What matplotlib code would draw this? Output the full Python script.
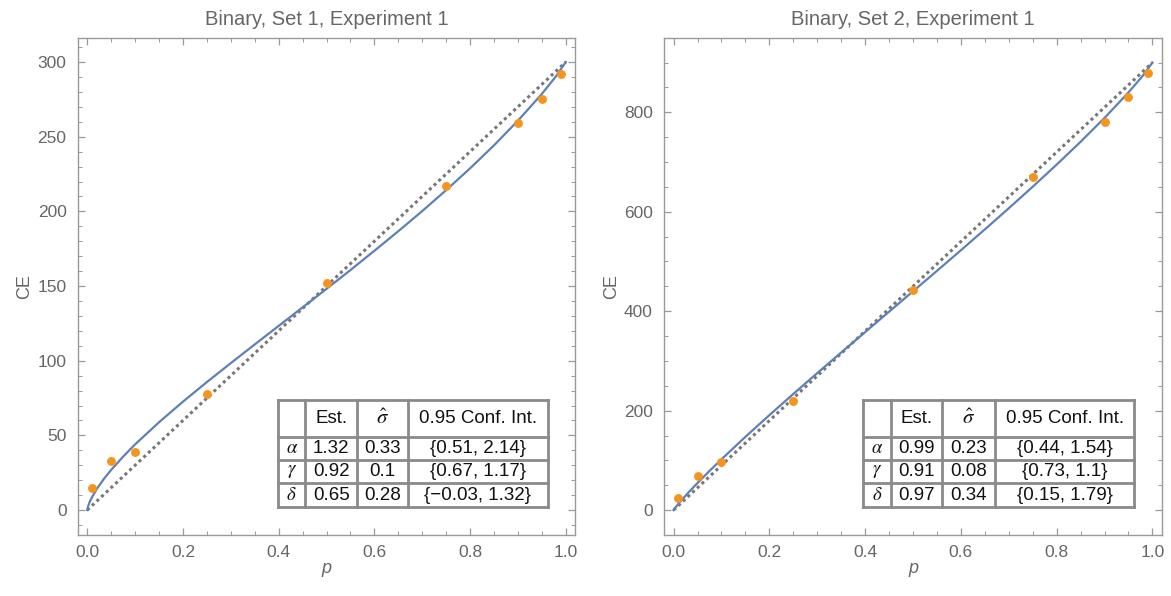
import matplotlib
matplotlib.use("Agg")
import matplotlib.pyplot as plt
from matplotlib.ticker import MultipleLocator
from matplotlib.lines import Line2D

# observed certainty equivalents
p_obs = [0.01, 0.05, 0.1, 0.25, 0.5, 0.75, 0.9, 0.95, 0.99]
ce_set1 = [15, 33, 39, 78, 152, 217, 259, 275, 292]
ce_set2 = [25, 68, 97, 220, 442, 670, 780, 830, 880]

# fitted curves
p_fit = [0, 0.002, 0.005, 0.01, 0.02, 0.035, 0.05, 0.075, 0.1, 0.15, 0.2, 0.25,
         0.3, 0.35, 0.4, 0.45, 0.5, 0.55, 0.6, 0.65, 0.7, 0.75, 0.8, 0.85,
         0.9, 0.95, 0.98, 1.0]
fit_set1 = [0.0, 2.8, 5.4, 8.7, 14.2, 21.0, 26.9, 35.8, 44.0, 58.8, 72.6, 85.7,
            98.4, 110.9, 123.3, 135.7, 148.1, 160.7, 173.6, 186.7, 200.2, 214.2,
            228.8, 244.2, 260.7, 278.6, 290.6, 300.0]
fit_set2 = [0.0, 2.9, 6.7, 12.6, 23.7, 39.5, 54.6, 78.8, 102.2, 147.4, 191.0, 233.6,
            275.5, 316.9, 358.0, 399.0, 440.0, 481.1, 522.6, 564.5, 607.0, 650.4,
            694.8, 740.7, 788.7, 840.0, 873.6, 900.0]
stake1, stake2 = 300, 900

# parameter tables
col_labels = ["", "Est.", r"$\hat{\sigma}$", "0.95 Conf. Int."]
params = [r"$\alpha$", r"$\gamma$", r"$\delta$"]
est1 = ["1.32", "0.92", "0.65"]
sd1 = ["0.33", "0.1", "0.28"]
ci1 = ["{0.51, 2.14}", "{0.67, 1.17}", "{\u22120.03, 1.32}"]
est2 = ["0.99", "0.91", "0.97"]
sd2 = ["0.23", "0.08", "0.34"]
ci2 = ["{0.44, 1.54}", "{0.73, 1.1}", "{0.15, 1.79}"]

plt.rcParams["font.family"] = ["Liberation Sans", "DejaVu Sans"]
W, H = 1171, 596
fig = plt.figure(figsize=(W / 100, H / 100), dpi=100)

txt_gray = "#666666"
frame_gray = "#999999"


def draw_table(xs, ys, rows):
    kw = dict(transform=fig.transFigure, color="#8a8a8a", lw=2.0,
              solid_capstyle="projecting")
    for x in xs:
        fig.add_artist(Line2D([x / W, x / W], [1 - ys[0] / H, 1 - ys[-1] / H], **kw))
    for y in ys:
        fig.add_artist(Line2D([xs[0] / W, xs[-1] / W], [1 - y / H, 1 - y / H], **kw))
    for r, row in enumerate(rows):
        for c, s in enumerate(row):
            cx = (xs[c] + xs[c + 1]) / 2
            cy = (ys[r] + ys[r + 1]) / 2
            size = 15 if "sigma" in s else 13.5
            fig.text(cx / W, 1 - cy / H, s, ha="center", va="center",
                     fontsize=size, color="#111111", math_fontfamily="stix")


def panel(rect, fit, obs, stake, ylim, major, minor, title, xs, table_rows):
    ax = fig.add_axes(rect)
    ax.plot([0, 1], [0, stake], color="#777777", lw=2.2, ls=(0, (1, 1.1)), zorder=2)
    ax.plot(p_fit, fit, color="#5E81B5", lw=1.6, zorder=3)
    ax.plot(p_obs, obs, "o", color="#F7941D", ms=6.4, mec="none", zorder=4)
    ax.set_xlim(-0.02, 1.02)
    ax.set_ylim(*ylim)
    ax.xaxis.set_major_locator(MultipleLocator(0.2))
    ax.xaxis.set_minor_locator(MultipleLocator(0.05))
    ax.yaxis.set_major_locator(MultipleLocator(major))
    ax.yaxis.set_minor_locator(MultipleLocator(minor))
    ax.xaxis.set_major_formatter(lambda v, pos: f"{v:.1f}")
    for s in ax.spines.values():
        s.set_color(frame_gray)
        s.set_linewidth(1.0)
    ax.tick_params(which="both", direction="in", top=True, right=True,
                   color=frame_gray, labelcolor=txt_gray, labelsize=12.5)
    ax.tick_params(which="major", length=5, width=0.9)
    ax.tick_params(which="minor", length=3, width=0.7)
    ax.tick_params(axis="x", pad=7)
    ax.tick_params(axis="y", pad=8)
    ax.set_title(title, fontsize=14.5, color=txt_gray, pad=9)
    ax.set_xlabel("p", fontsize=13, color=txt_gray, style="italic", labelpad=0)
    ax.set_ylabel("CE", fontsize=13, color=txt_gray, labelpad=3)
    draw_table(xs, [400, 437.3, 460, 483.3, 506.7], table_rows)
    return ax


rows1 = [col_labels] + [[params[i], est1[i], sd1[i], ci1[i]] for i in range(3)]
rows2 = [col_labels] + [[params[i], est2[i], sd2[i], ci2[i]] for i in range(3)]

panel([77.7 / W, 1 - 535 / H, (575.3 - 77.7) / W, (535 - 37.7) / H],
      fit_set1, ce_set1, stake1, (-16.7, 316.3), 50, 10,
      "Binary, Set 1, Experiment 1", [278.3, 305, 357.3, 407.7, 547.7], rows1)
panel([664 / W, 1 - 535 / H, (1162 - 664) / W, (535 - 37.7) / H],
      fit_set2, ce_set2, stake2, (-50, 950), 200, 50,
      "Binary, Set 2, Experiment 1", [863.3, 891, 942.3, 995, 1134.3], rows2)

fig.savefig("out.png", dpi=100)
